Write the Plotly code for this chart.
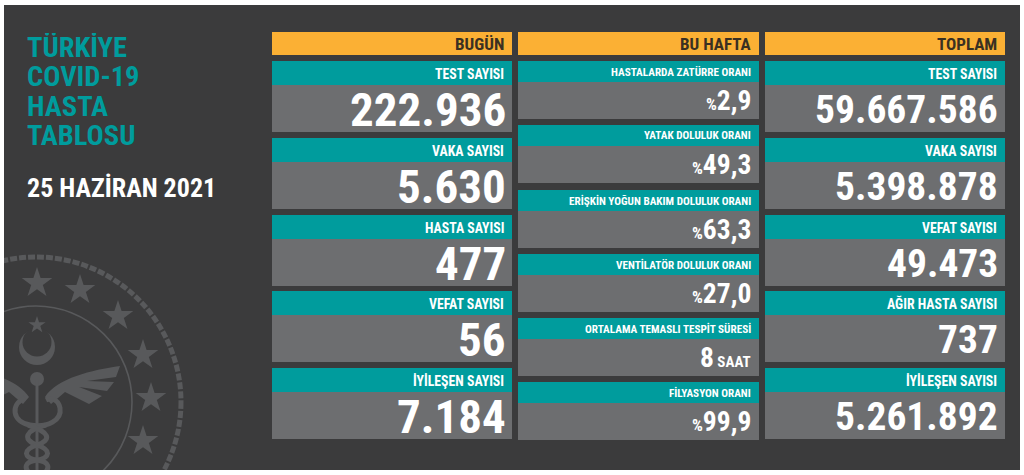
import plotly.graph_objects as go

FONT = "Roboto Condensed"

PANEL = "#3b3b3c"
GRAY = "#6d6e70"
TEAL = "#009c9d"
ORANGE = "#fbb034"
HEAD_TEXT = "#3a3022"
EMBLEM = "#58595b"

title_lines = ["TÜRKİYE", "COVID-19", "HASTA", "TABLOSU"]
date_label = "25 HAZİRAN 2021"

headers = ["BUGÜN", "BU HAFTA", "TOPLAM"]

today_labels = ["TEST SAYISI", "VAKA SAYISI", "HASTA SAYISI", "VEFAT SAYISI", "İYİLEŞEN SAYISI"]
today_values = ["222.936", "5.630", "477", "56", "7.184"]

week_labels = ["HASTALARDA ZATÜRRE ORANI", "YATAK DOLULUK ORANI", "ERİŞKİN YOĞUN BAKIM DOLULUK ORANI",
               "VENTİLATÖR DOLULUK ORANI", "ORTALAMA TEMASLI TESPİT SÜRESİ", "FİLYASYON ORANI"]
week_prefix = ["%", "%", "%", "%", "", "%"]
week_values = ["2,9", "49,3", "63,3", "27,0", "8", "99,9"]
week_suffix = ["", "", "", "", " SAAT", ""]

total_labels = ["TEST SAYISI", "VAKA SAYISI", "VEFAT SAYISI", "AĞIR HASTA SAYISI", "İYİLEŞEN SAYISI"]
total_values = ["59.667.586", "5.398.878", "49.473", "737", "5.261.892"]

fig = go.Figure()
shapes = []
notes = []


def rect(x0, y0, x1, y1, color):
    shapes.append(dict(type="rect", x0=x0, y0=y0, x1=x1, y1=y1, fillcolor=color,
                       line_width=0, layer="below"))


def text(x, y, s, size, color, anchor="right", **kw):
    notes.append(dict(x=x, y=y, text=s, showarrow=False, xanchor=anchor, yanchor="middle",
                      font=dict(family=FONT, size=size, color=color, weight=700), borderpad=0, **kw))


# emblem in the lower left corner
def circle(cx, cy, r, **kw):
    shapes.append(dict(type="circle", x0=cx - r, y0=cy - r, x1=cx + r, y1=cy + r, layer="below", **kw))


def path(d, **kw):
    shapes.append(dict(type="path", path=d, layer="below", **kw))


circle(36, 402, 145, line=dict(color=EMBLEM, width=5, dash="7px,2px"))
circle(36, 402, 96, line=dict(color=EMBLEM, width=1.6))
circle(37, 347, 18, fillcolor=EMBLEM, line_width=0)
circle(37, 342, 14.5, fillcolor=PANEL, line_width=0)
circle(37, 379, 7, fillcolor=EMBLEM, line_width=0)
path("M 37 380 L 37 470", line=dict(color=EMBLEM, width=3))
for sign in (1, -1):
    def px(v):
        return 37 + sign * v
    path(f"M {px(8)} 397 C {px(20)} 378, {px(55)} 370, {px(83)} 366 L {px(79)} 377 L {px(50)} 381 "
         f"L {px(77)} 382 L {px(70)} 391 L {px(42)} 387 L {px(65)} 396 L {px(52)} 404 L {px(28)} 392 "
         f"L {px(14)} 404 Z", fillcolor=EMBLEM, line_width=0)
path("M 25 398 C 10 404, 12 422, 30 425 C 48 428, 62 420, 60 408 C 58 398, 50 398, 46 400",
     line=dict(color=EMBLEM, width=5))
path("M 46 425 C 25 430, 22 440, 37 445 C 52 450, 50 458, 37 460 C 24 462, 24 468, 30 474",
     line=dict(color=EMBLEM, width=5))
path("M 28 425 C 50 432, 52 440, 37 445 C 22 450, 24 458, 37 460 C 50 462, 50 468, 44 474",
     line=dict(color=EMBLEM, width=5))

fig.add_trace(go.Scatter(x=[37, 80, 118, 143, 151, 143], y=[283, 290, 316, 355, 398, 441], mode="markers",
                         marker=dict(symbol="star", size=23, color=EMBLEM, line_width=0),
                         hoverinfo="skip", showlegend=False))
fig.add_trace(go.Scatter(x=[37], y=[325], mode="markers",
                         marker=dict(symbol="star", size=13, color=EMBLEM, line_width=0),
                         hoverinfo="skip", showlegend=False))

# title block, boxes kept to the line pitch so the lines do not collide
for i, line in enumerate(title_lines):
    text(26, 47 + i * 29.3, line, 28.5, TEAL, anchor="left", height=28)
text(26, 188, date_label, 26, "#ffffff", anchor="left")

# column headers
col_x = [(272, 512), (518, 759), (765, 1005)]
for (x0, x1), head in zip(col_x, headers):
    rect(x0, 32, x1, 55, ORANGE)
    text(x1 - 7, 44, head, 17, HEAD_TEXT)

# left and right columns, five big cells
big_top = [61, 138, 215, 291, 368]
for (x0, x1), labels, values, size, pad in ((col_x[0], today_labels, today_values, 47, 5),
                                            (col_x[2], total_labels, total_values, 39.5, 6)):
    for top, lab, val in zip(big_top, labels, values):
        rect(x0, top, x1, top + 24, TEAL)
        rect(x0, top + 24, x1, top + 71, GRAY)
        text(x1 - 7, top + 12.5, lab, 13.8, "#ffffff")
        text(x1 - pad, top + 48, val, size, "#ffffff")

# middle column, six small cells
small_top = [61, 125, 190, 254, 318, 382]
x0, x1 = col_x[1]
for i, top in enumerate(small_top):
    rect(x0, top, x1, top + 21, TEAL)
    rect(x0, top + 21, x1, top + 58, GRAY)
    text(x1 - 7, top + 10.5, week_labels[i], 11.2, "#ffffff")
    val = f"<span style='font-size:17px'>{week_prefix[i]}</span>{week_values[i]}"
    if week_suffix[i]:
        val += f"<span style='font-size:15px'>{week_suffix[i]}</span>"
    text(x1 - 7, top + 39.5, val, 27.5, "#ffffff")

fig.update_layout(
    width=1024, height=475,
    margin=dict(l=4, r=4, t=5, b=5),
    paper_bgcolor="#ffffff", plot_bgcolor=PANEL,
    shapes=shapes, annotations=notes, showlegend=False,
)
fig.update_xaxes(range=[4, 1020], visible=False, fixedrange=True)
fig.update_yaxes(range=[470, 5], visible=False, fixedrange=True)

fig.write_html("out.html", config=dict(displayModeBar=False),
               post_script="document.body.style.margin='0';")
